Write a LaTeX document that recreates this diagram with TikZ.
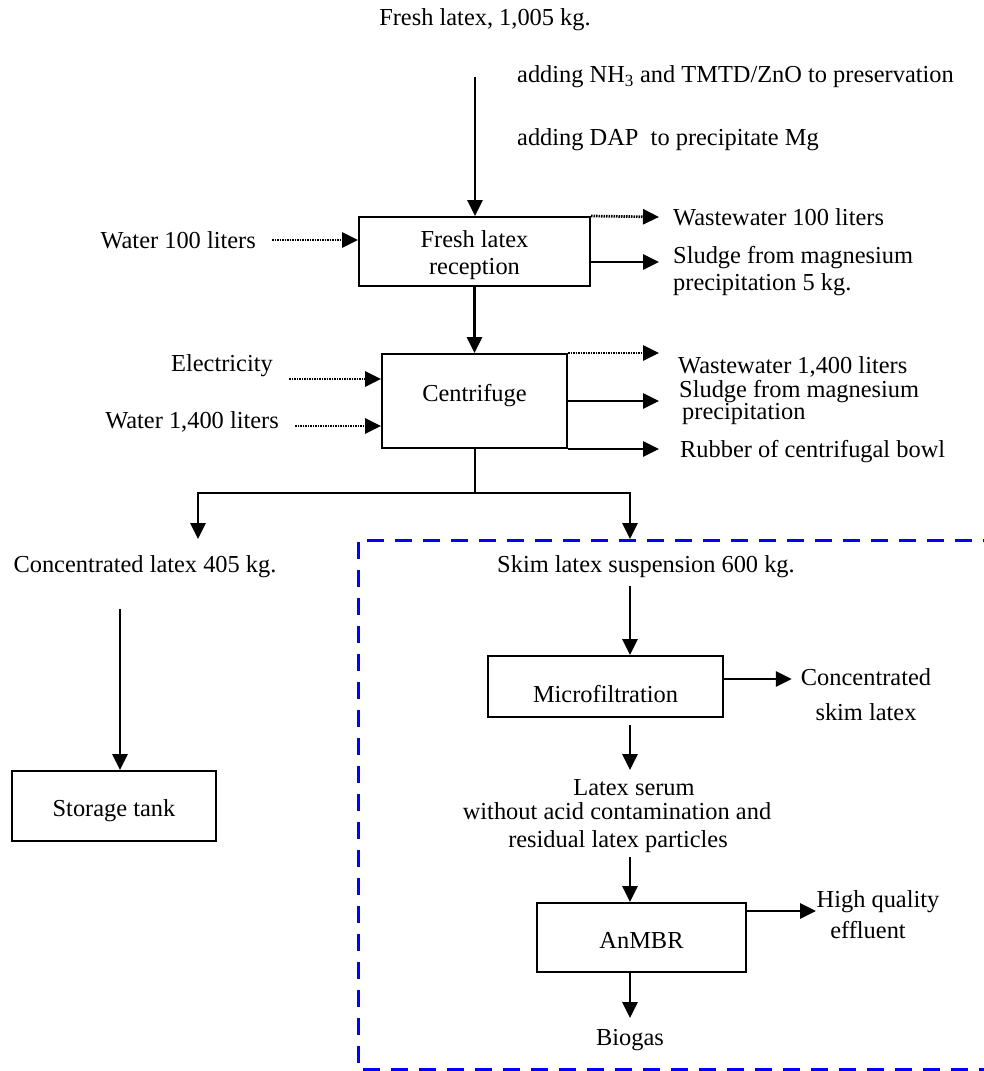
\documentclass[tikz,border=0pt]{standalone}
\usepackage{fontspec}
\setmainfont{Liberation Serif}
\usetikzlibrary{arrows.meta}

\tikzset{
  box/.style={draw, line width=2pt, inner sep=0pt},
  txt/.style={inner sep=0pt},
  outtxt/.style={inner sep=0pt, inner xsep=14pt, anchor=west},
  intxt/.style={inner sep=0pt, inner xsep=16pt, anchor=east},
  flow/.style={line width=2.7pt, -{Triangle[length=16pt,width=15pt]}},
  dotflow/.style={flow, dash pattern=on 1.5pt off 1pt},
  plain/.style={line width=2pt},
  blueframe/.style={draw=blue, line width=3pt, dash pattern=on 17pt off 11pt}
}

\begin{document}
\begin{tikzpicture}[x=1pt,y=-1pt,line join=miter,font=\fontsize{24.4}{27}\selectfont]
\useasboundingbox (0,0) rectangle (983,1071);

% latex intake
\node[txt] (fresh) at (485,20) {Fresh latex, 1,005 kg.};
\node[txt,anchor=west] (addnh) at (517,77) {adding NH\textsubscript{3} and TMTD/ZnO to preservation};
\node[txt,anchor=west] (adddap) at (517,140) {adding DAP\ \ to precipitate Mg};
\coordinate (feed) at (475,77);

\node[box, minimum width=231pt, minimum height=69pt,
  label={[align=center,yshift=-4pt]center:Fresh latex\\reception}] (flr) at (474.5,251.5) {};
\draw[flow] (feed) -- (feed |- flr.north);

\node[intxt] (water1) at (272,240) {Water 100 liters};
\draw[dotflow] (water1.east) -- (water1.east -| flr.west);

\node[outtxt] (ww1) at (659,217) {Wastewater 100 liters};
\node[outtxt,align=left] (sludge1) at (659,271.5) {Sludge from magnesium\\precipitation 5 kg.};
\draw[dotflow] (flr.north east) -- (ww1.west);
\draw[flow] (flr.east |- 0,262) -- (sludge1.west |- 0,262);

% centrifuge
\node[box, minimum width=185pt, minimum height=94pt,
  label={[yshift=5pt]center:Centrifuge}] (cent) at (474.5,401) {};
\draw[flow] (flr.south) -- (cent.north);

\node[intxt] (elec) at (289,366) {Electricity};
\node[intxt] (water2) at (295,422) {Water 1,400 liters};
\draw[dotflow] (elec.east |- 0,379) -- (cent.west |- 0,379);
\draw[dotflow] (water2.east |- 0,426) -- (cent.west |- 0,426);

\node[outtxt,inner xsep=19pt] (ww2) at (659,367) {Wastewater 1,400 liters};
\node[outtxt,inner xsep=20pt,align=left] (sludge2) at (659,403) {Sludge from magnesium\\[-5pt]\hspace*{3pt}precipitation};
\node[outtxt,inner xsep=21pt] (rubber) at (659,452) {Rubber of centrifugal bowl};
\draw[dotflow] (cent.north east) -- (cent.north east -| ww2.west);
\draw[flow] (cent.east) -- (sludge2.west |- cent.east);
\draw[flow] (cent.south east) -- (rubber.west |- cent.south east);

% split
\coordinate (split) at (474.5,493);
\coordinate (lefttip) at (198,539);
\coordinate (righttip) at (630,539);
\draw[plain] (cent.south) -- (split);
\draw[flow] (split) -| (lefttip);
\draw[flow] (split) -| (righttip);

% skim latex treatment
\draw[blueframe] (1000,540) -- (358,540) -- (358,1069) -- (1000,1069);

\node[txt] (conclat) at (145,567) {Concentrated latex 405 kg.};
\node[box, minimum width=204pt, minimum height=70pt,
  label={[yshift=-5pt]center:Storage tank}] (tank) at (114,806) {};
\coordinate (tankin) at (120,609);
\draw[flow] (tankin) -- (tankin |- tank.north);

\node[txt] (skim) at (646,567) {Skim latex suspension 600 kg.};
\node[box, minimum width=235pt, minimum height=61pt,
  label={[yshift=-8pt]center:Microfiltration}] (mf) at (605.5,686.5) {};
\coordinate (mfin) at (630,586);
\draw[flow] (mfin) -- (mfin |- mf.north);

\node[txt,align=center] (conc2) at (866,694.5) {Concentrated\\[8pt]skim latex};
\draw[flow,shorten >=9pt] (mf.east |- 0,679) -- (conc2.west |- 0,679);

\node[txt] (serum1) at (634,788) {Latex serum};
\node[txt] (serum2) at (617,811) {without acid contamination and};
\node[txt] (serum3) at (618,842) {residual latex particles};
\coordinate (mfout) at (630,725);
\draw[flow] (mfout) -- ++(0,45);

\node[box, minimum width=209pt, minimum height=69pt,
  label={[yshift=-3pt]center:AnMBR}] (anmbr) at (641.5,937.5) {};
\coordinate (anin) at (630,857);
\draw[flow] (anin) -- (anin |- anmbr.north);

\node[txt,align=center] (hq) at (878,914.5) {High quality\\[4pt]effluent\hspace*{20pt}};
\draw[flow] (anmbr.east |- 0,911) -- ++(69,0);

\node[txt] (biogas) at (630,1040) {Biogas};
\draw[flow] (anin |- anmbr.south) -- ++(0,45);
\end{tikzpicture}
\end{document}
